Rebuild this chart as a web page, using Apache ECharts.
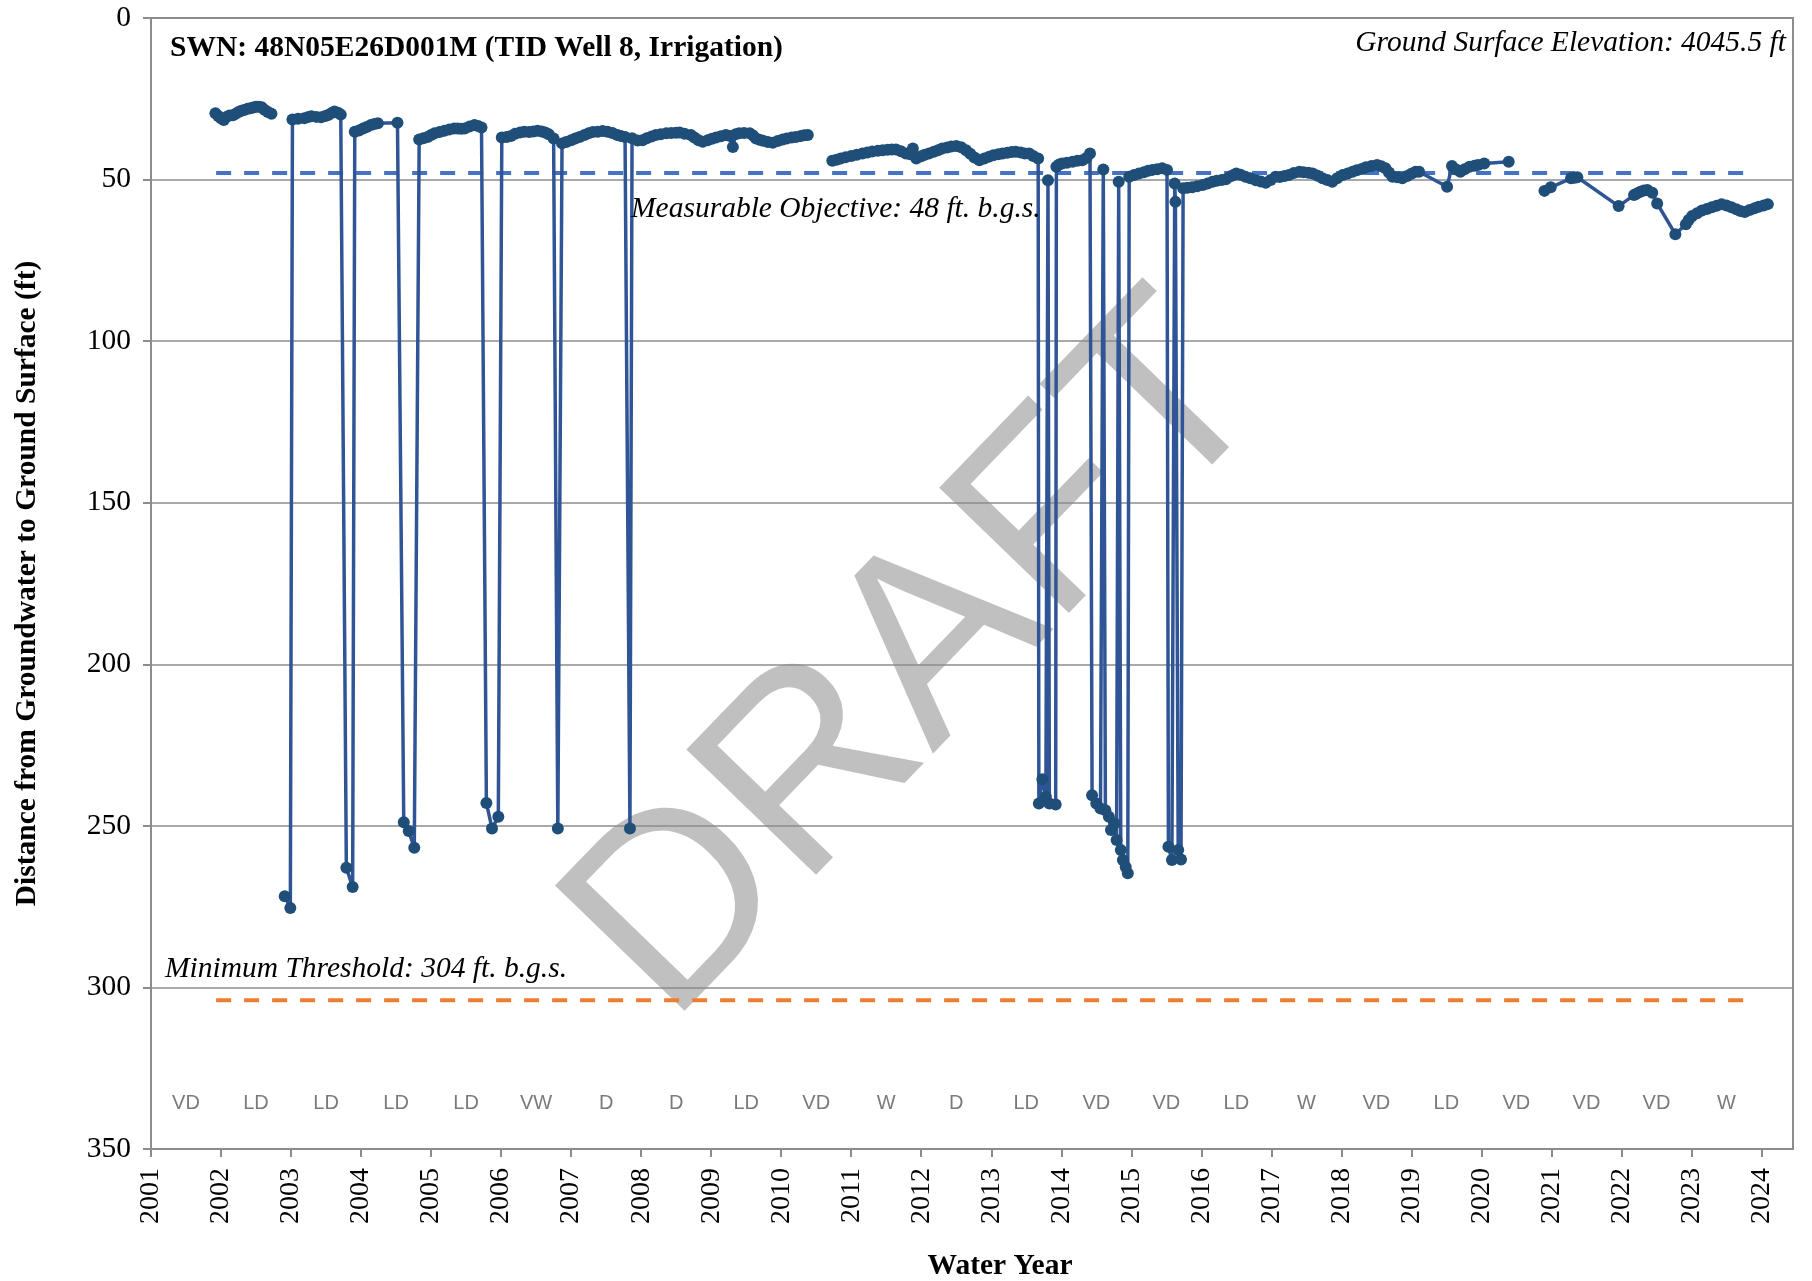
<!DOCTYPE html>
<html>
<head>
<meta charset="utf-8">
<script src="https://cdn.jsdelivr.net/npm/echarts@6/dist/echarts.min.js"></script>
<style>
  html, body { margin: 0; padding: 0; background: #ffffff; }
  #chart { width: 1812px; height: 1281px; }
</style>
</head>
<body>
<div id="chart"></div>
<script>
// ---------------- DATA ----------------
const chartTitle = 'SWN: 48N05E26D001M (TID Well 8, Irrigation)';
const groundSurfaceText = 'Ground Surface Elevation: 4045.5 ft';
const objectiveText = 'Measurable Objective: 48 ft. b.g.s.';
const thresholdText = 'Minimum Threshold: 304 ft. b.g.s.';
const yAxisTitle = 'Distance from Groundwater to Ground Surface (ft)';
const xAxisTitle = 'Water Year';

const yearTicks = [2001, 2002, 2003, 2004, 2005, 2006, 2007, 2008, 2009, 2010, 2011, 2012,
                   2013, 2014, 2015, 2016, 2017, 2018, 2019, 2020, 2021, 2022, 2023, 2024];
const waterYearTypes = ['VD', 'LD', 'LD', 'LD', 'LD', 'VW', 'D', 'D', 'LD', 'VD', 'W', 'D',
                        'LD', 'VD', 'VD', 'LD', 'W', 'VD', 'LD', 'VD', 'VD', 'VD', 'W'];
const typeLabelDepth = 336;

const measurableObjective = 48;
const minimumThreshold = 304;
const thresholdSpan = [2001.93, 2023.74];

// [decimal year, depth to water (ft)]; null = gap in record
const waterLevels = [
  [2001.92, 29.5], [2001.96, 30.3], [2002.00, 31.0], [2002.04, 31.6], [2002.08, 30.6],
  [2002.12, 30.2], [2002.17, 30.1], [2002.21, 29.6], [2002.25, 29.1], [2002.29, 28.7],
  [2002.33, 28.5], [2002.38, 28.1], [2002.42, 27.9], [2002.46, 27.7], [2002.50, 27.5],
  [2002.54, 27.5], [2002.58, 27.6], [2002.62, 28.4], [2002.67, 29.1], [2002.72, 29.6],
  [2002.80, null],
  [2002.91, 271.8], [2002.99, 275.4],
  [2003.02, 31.4], [2003.10, 31.2], [2003.19, 31.0], [2003.25, 30.6], [2003.29, 30.4],
  [2003.36, 30.6], [2003.43, 30.7], [2003.49, 30.3], [2003.53, 30.0], [2003.58, 29.4],
  [2003.62, 28.9], [2003.67, 29.3], [2003.71, 29.9],
  [2003.79, 263.0], [2003.88, 268.9],
  [2003.91, 35.2], [2003.97, 34.8], [2004.03, 34.2], [2004.08, 33.7], [2004.14, 33.1],
  [2004.19, 32.8], [2004.24, 32.6], [2004.52, 32.4],
  [2004.61, 248.9], [2004.68, 251.6], [2004.76, 256.8],
  [2004.83, 37.6], [2004.89, 37.2], [2004.95, 36.8], [2005.00, 36.2], [2005.05, 35.7],
  [2005.12, 35.3], [2005.19, 34.9], [2005.26, 34.5], [2005.33, 34.2], [2005.38, 34.2],
  [2005.43, 34.3], [2005.48, 34.2], [2005.55, 33.6], [2005.62, 33.1], [2005.67, 33.4],
  [2005.72, 33.9],
  [2005.79, 242.9], [2005.87, 250.8], [2005.96, 247.2],
  [2006.01, 37.0], [2006.08, 36.8], [2006.14, 36.5], [2006.20, 35.8], [2006.27, 35.4],
  [2006.33, 35.2], [2006.40, 35.3], [2006.46, 35.1], [2006.52, 34.9], [2006.58, 35.1],
  [2006.63, 35.4], [2006.68, 36.0], [2006.75, 37.3],
  [2006.81, 250.8],
  [2006.87, 38.8], [2006.93, 38.4], [2007.00, 37.8], [2007.06, 37.3], [2007.12, 36.8],
  [2007.19, 36.2], [2007.25, 35.7], [2007.31, 35.3], [2007.38, 35.2], [2007.45, 35.0],
  [2007.52, 35.2], [2007.59, 35.6], [2007.66, 36.2], [2007.71, 36.5], [2007.77, 36.8],
  [2007.84, 250.8],
  [2007.87, 37.2], [2007.95, 37.9], [2008.02, 37.8], [2008.08, 37.2], [2008.15, 36.7],
  [2008.21, 36.2], [2008.28, 36.0], [2008.36, 35.7], [2008.43, 35.6], [2008.50, 35.5],
  [2008.55, 35.4], [2008.62, 35.8], [2008.71, 36.2], [2008.76, 37.0], [2008.82, 37.8],
  [2008.88, 38.3], [2008.95, 37.8], [2009.01, 37.4], [2009.07, 37.0], [2009.14, 36.6],
  [2009.21, 36.2], [2009.27, 36.5], [2009.31, 39.9], [2009.35, 36.0], [2009.40, 35.7],
  [2009.47, 35.6], [2009.55, 35.7], [2009.60, 36.4], [2009.64, 37.3], [2009.69, 37.7],
  [2009.74, 38.0], [2009.81, 38.4], [2009.88, 38.6], [2009.95, 38.1], [2010.02, 37.6],
  [2010.08, 37.3], [2010.15, 37.0], [2010.21, 36.8], [2010.28, 36.5], [2010.33, 36.3],
  [2010.38, 36.2],
  [2010.55, null],
  [2010.73, 44.2], [2010.79, 43.9], [2010.85, 43.5], [2010.92, 43.1], [2011.00, 42.7],
  [2011.08, 42.3], [2011.16, 41.9], [2011.23, 41.6], [2011.30, 41.3], [2011.38, 41.1],
  [2011.45, 40.9], [2011.52, 40.8], [2011.58, 40.7], [2011.64, 40.7], [2011.71, 41.2],
  [2011.78, 41.9], [2011.84, 42.2], [2011.88, 40.4], [2011.93, 43.5], [2012.00, 42.8],
  [2012.05, 42.3], [2012.11, 41.9], [2012.18, 41.4], [2012.24, 40.9], [2012.30, 40.4],
  [2012.37, 40.1], [2012.43, 39.8], [2012.50, 39.6], [2012.57, 40.0], [2012.64, 40.9],
  [2012.70, 42.0], [2012.76, 43.2], [2012.83, 44.0], [2012.90, 43.5], [2012.97, 42.9],
  [2013.03, 42.5], [2013.10, 42.2], [2013.16, 41.9], [2013.23, 41.7], [2013.29, 41.5],
  [2013.35, 41.4], [2013.42, 41.6], [2013.48, 41.9], [2013.54, 41.9], [2013.60, 42.7],
  [2013.67, 43.5],
  [2013.68, 243.1], [2013.73, 235.6], [2013.78, 241.0], [2013.81, 50.2], [2013.83, 243.1],
  [2013.92, 243.4],
  [2013.93, 46.0], [2013.97, 45.3], [2014.01, 45.0], [2014.08, 44.8], [2014.16, 44.5],
  [2014.23, 44.2], [2014.30, 44.0], [2014.36, 43.3], [2014.41, 41.9],
  [2014.44, 240.5], [2014.50, 243.1], [2014.56, 244.6], [2014.60, 46.9], [2014.63, 245.2],
  [2014.68, 247.2], [2014.71, 251.3], [2014.76, 249.3], [2014.79, 254.4], [2014.82, 50.7],
  [2014.85, 257.5], [2014.88, 260.6], [2014.92, 262.7], [2014.95, 264.7],
  [2014.97, 49.1], [2015.04, 48.6], [2015.11, 48.1], [2015.18, 47.7], [2015.24, 47.3],
  [2015.30, 47.0], [2015.37, 46.8], [2015.44, 46.5], [2015.51, 47.0],
  [2015.53, 256.5], [2015.58, 260.6], [2015.62, 51.2], [2015.63, 56.9], [2015.67, 257.5],
  [2015.71, 260.4],
  [2015.74, 52.7], [2015.80, 52.5], [2015.87, 52.4], [2015.94, 52.1], [2016.02, 51.7],
  [2016.09, 51.2], [2016.16, 50.7], [2016.22, 50.4], [2016.29, 50.1], [2016.35, 49.9],
  [2016.42, 49.0], [2016.47, 48.5], [2016.50, 48.1], [2016.56, 48.5], [2016.63, 49.1],
  [2016.70, 49.6], [2016.78, 50.2], [2016.85, 50.6], [2016.92, 51.0], [2016.99, 50.1],
  [2017.06, 49.1], [2017.12, 49.2], [2017.19, 48.9], [2017.25, 48.6], [2017.32, 48.0],
  [2017.40, 47.6], [2017.46, 47.7], [2017.53, 47.9], [2017.59, 48.1], [2017.66, 48.8],
  [2017.73, 49.6], [2017.80, 50.1], [2017.87, 50.7], [2017.94, 49.6], [2018.02, 48.6],
  [2018.09, 48.1], [2018.16, 47.6], [2018.22, 47.1], [2018.29, 46.7], [2018.35, 46.2],
  [2018.43, 45.8], [2018.51, 45.5], [2018.57, 45.9], [2018.63, 46.5], [2018.68, 47.8],
  [2018.73, 49.1], [2018.80, 49.3], [2018.87, 49.6], [2018.94, 48.9], [2019.00, 48.2],
  [2019.06, 47.6], [2019.11, 47.6], [2019.51, 52.2], [2019.58, 45.8], [2019.64, 46.9],
  [2019.70, 47.6], [2019.76, 46.8], [2019.83, 46.0], [2019.90, 45.7], [2019.95, 45.5],
  [2020.04, 45.0], [2020.39, 44.5],
  [2020.60, null],
  [2020.90, 53.5], [2020.99, 52.4], [2021.28, 49.6], [2021.33, 49.4], [2021.37, 49.3],
  [2021.96, 58.2], [2022.18, 54.8], [2022.22, 54.3], [2022.27, 53.8], [2022.32, 53.4],
  [2022.37, 53.2], [2022.44, 54.1], [2022.51, 57.4], [2022.77, 66.9], [2022.92, 63.8],
  [2022.96, 62.5], [2023.01, 61.3], [2023.08, 60.4], [2023.15, 59.6], [2023.22, 59.1],
  [2023.29, 58.6], [2023.36, 58.1], [2023.43, 57.6], [2023.50, 58.0], [2023.57, 58.6],
  [2023.64, 59.2], [2023.70, 59.7], [2023.76, 60.0], [2023.83, 59.4], [2023.90, 58.9],
  [2023.96, 58.4], [2024.03, 58.0], [2024.09, 57.6]
];

// ---------------- CHART ----------------
const serif = '"Liberation Serif", "Times New Roman", serif';
const gridColor = '#8C8C8C';
const textSize = 29.5;

const chart = echarts.init(document.getElementById('chart'), null, { renderer: 'canvas' });

const typeLabelData = waterYearTypes.map((t, i) => [(yearTicks[i] + yearTicks[i + 1]) / 2, typeLabelDepth, t]);

const option = {
  animation: false,
  backgroundColor: '#ffffff',
  grid: {
    left: 151, right: 19, top: 18, bottom: 132,
    containLabel: false, outerBoundsMode: 'none',
    show: true, borderColor: gridColor, borderWidth: 2, backgroundColor: 'transparent'
  },
  xAxis: {
    type: 'value',
    min: 2001,
    max: 2024.45,
    interval: 1,
    name: xAxisTitle,
    nameLocation: 'middle',
    nameGap: 102,
    nameTextStyle: { fontFamily: serif, fontWeight: 'bold', fontSize: textSize, color: '#000', padding: [0, 0, 0, 56] },
    axisLine: { onZero: false, lineStyle: { color: gridColor, width: 2 } },
    axisTick: { show: true, inside: false, length: 8, lineStyle: { color: gridColor, width: 2 }, customValues: yearTicks },
    axisLabel: {
      customValues: yearTicks,
      rotate: 90, margin: 19, fontFamily: serif, fontSize: 28, color: '#000',
      formatter: v => (Math.abs(v - Math.round(v)) < 1e-6 ? String(Math.round(v)) : '')
    },
    splitLine: { show: false }
  },
  yAxis: {
    type: 'value',
    inverse: true,
    min: 0, max: 350, interval: 50,
    name: yAxisTitle,
    nameLocation: 'middle',
    nameRotate: 90,
    nameGap: 109,
    nameTextStyle: { fontFamily: serif, fontWeight: 'bold', fontSize: textSize, color: '#000' },
    axisLine: { show: true, lineStyle: { color: gridColor, width: 2 } },
    axisTick: { show: true, inside: false, length: 8, lineStyle: { color: gridColor, width: 2 } },
    axisLabel: { margin: 20, fontFamily: serif, fontSize: 29.5, color: '#000' },
    splitLine: { show: true, lineStyle: { color: gridColor, width: 1.5 } }
  },
  graphic: {
    elements: [
      {
        type: 'text', z: 1, silent: true,
        x: 921, y: 662, rotation: 46 * Math.PI / 180,
        style: {
          text: 'DRAFT', fill: 'rgba(140,140,140,0.55)',
          font: '262px "Liberation Sans", Arial, sans-serif',
          align: 'center', verticalAlign: 'middle'
        }
      },
      {
        type: 'text', z: 10, silent: true, x: 170, y: 48,
        style: { text: chartTitle, fill: '#000', font: 'bold ' + textSize + 'px ' + serif, align: 'left', verticalAlign: 'middle' }
      },
      {
        type: 'text', z: 10, silent: true, x: 1786, y: 43,
        style: { text: groundSurfaceText, fill: '#000', font: 'italic ' + textSize + 'px ' + serif, align: 'right', verticalAlign: 'middle' }
      },
      {
        type: 'text', z: 10, silent: true, x: 631, y: 209,
        style: { text: objectiveText, fill: '#000', font: 'italic ' + textSize + 'px ' + serif, align: 'left', verticalAlign: 'middle' }
      },
      {
        type: 'text', z: 10, silent: true, x: 165, y: 969,
        style: { text: thresholdText, fill: '#000', font: 'italic ' + textSize + 'px ' + serif, align: 'left', verticalAlign: 'middle' }
      }
    ]
  },
  series: [
    {
      name: 'Measurable Objective',
      type: 'line',
      data: thresholdSpan.map(x => [x, measurableObjective]),
      symbol: 'none',
      lineStyle: { color: '#4472C4', width: 4, type: [15, 13] },
      silent: true, z: 2
    },
    {
      name: 'Minimum Threshold',
      type: 'line',
      data: thresholdSpan.map(x => [x, minimumThreshold]),
      symbol: 'none',
      lineStyle: { color: '#ED7D31', width: 4, type: [15, 13] },
      silent: true, z: 2
    },
    {
      name: 'Depth to Water',
      type: 'line',
      data: waterLevels.map(p => [p[0], p[1] === null ? '-' : p[1]]),
      connectNulls: false,
      showSymbol: true,
      symbol: 'circle',
      symbolSize: 12,
      itemStyle: { color: '#1F4E79' },
      lineStyle: { color: '#2F5597', width: 3.5 },
      z: 3
    },
    {
      name: 'Water Year Type',
      type: 'scatter',
      data: typeLabelData,
      symbolSize: 1,
      itemStyle: { color: 'rgba(0,0,0,0)' },
      label: {
        show: true, position: 'inside',
        formatter: p => p.data[2],
        color: '#595959', fontSize: 20,
        fontFamily: '"Liberation Sans Narrow", "Liberation Sans", Arial, sans-serif'
      },
      silent: true, z: 4
    }
  ]
};

chart.setOption(option);
</script>
</body>
</html>
